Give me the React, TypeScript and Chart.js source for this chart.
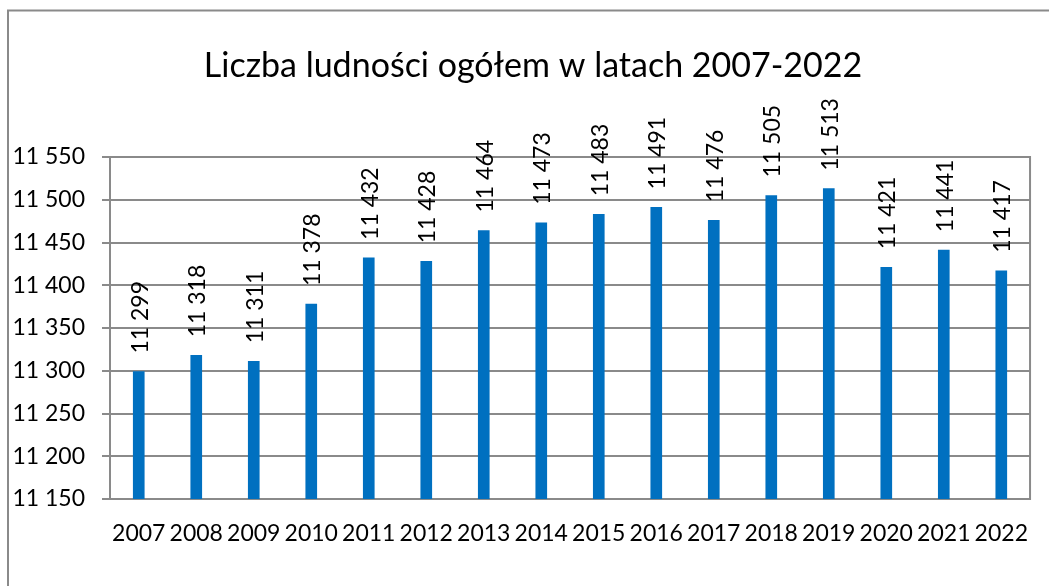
import React, { useEffect, useRef } from "react";
import { Chart, registerables } from "chart.js";

Chart.register(...registerables);

const years = ["2007", "2008", "2009", "2010", "2011", "2012", "2013", "2014", "2015", "2016", "2017", "2018", "2019", "2020", "2021", "2022"];
const population = [11299, 11318, 11311, 11378, 11432, 11428, 11464, 11473, 11483, 11491, 11476, 11505, 11513, 11421, 11441, 11417];
const yMin = 11150;
const yMax = 11550;
const yStep = 50;
const titleText = "Liczba ludności ogółem w latach 2007-2022";

const FONT = "Lato";
const GRID = "#8a8a8a";
const BAR = "#0070C0";

const fmt = (n: number) => String(n).replace(/\B(?=(\d{3})+(?!\d))/g, " ");

const decorPlugin = {
  id: "decor",
  afterDraw(chart: any) {
    const { ctx, chartArea } = chart;
    ctx.save();
    // outer frame
    ctx.strokeStyle = GRID;
    ctx.lineWidth = 2;
    ctx.beginPath();
    ctx.moveTo(1049, 10.5);
    ctx.lineTo(8, 10.5);
    ctx.lineTo(8, 586);
    ctx.stroke();
    // right plot border
    ctx.beginPath();
    ctx.moveTo(chartArea.right, chartArea.top - 1);
    ctx.lineTo(chartArea.right, chartArea.bottom + 1);
    ctx.stroke();
    // title
    ctx.fillStyle = "#000";
    ctx.font = `34px ${FONT}`;
    ctx.textAlign = "center";
    ctx.textBaseline = "alphabetic";
    ctx.fillText(titleText, 533, 77);
    // data labels
    const meta = chart.getDatasetMeta(0);
    ctx.font = `23px ${FONT}`;
    ctx.textAlign = "left";
    meta.data.forEach((bar: any, i: number) => {
      ctx.save();
      ctx.translate(bar.x + 9, bar.y - 18);
      ctx.rotate(-Math.PI / 2);
      ctx.fillText(fmt(population[i]), 0, 0);
      ctx.restore();
    });
    ctx.restore();
  },
};

export default function App() {
  const ref = useRef<HTMLCanvasElement>(null);
  useEffect(() => {
    if (!ref.current) return;
    const chart = new Chart(ref.current, {
      type: "bar",
      data: {
        labels: years,
        datasets: [
          {
            data: population,
            backgroundColor: BAR,
            barThickness: 11,
          },
        ],
      },
      options: {
        responsive: false,
        animation: false,
        layout: { padding: { top: 157, right: 1, left: 0, bottom: 0 } },
        plugins: {
          legend: { display: false },
          title: { display: false },
          tooltip: { enabled: false },
        },
        scales: {
          x: {
            grid: { display: true, drawOnChartArea: false, drawTicks: false },
            border: { display: true, color: GRID, width: 2 },
            ticks: {
              color: "#000",
              font: { family: FONT, size: 23 },
              padding: 21,
              autoSkip: false,
              maxRotation: 0,
            },
            afterFit(scale: any) {
              scale.height = 87;
            },
          },
          y: {
            min: yMin,
            max: yMax,
            grid: { color: GRID, lineWidth: 2, tickLength: 8 },
            border: { display: true, color: GRID, width: 2 },
            ticks: {
              stepSize: yStep,
              color: "#000",
              font: { family: FONT, size: 23 },
              padding: 17,
              callback: (v: any) => fmt(Number(v)),
            },
            afterFit(scale: any) {
              scale.width = 110;
            },
          },
        },
      },
      plugins: [decorPlugin],
    });
    return () => chart.destroy();
  }, []);
  return (
    <canvas
      ref={ref}
      width={1049}
      height={586}
      style={{ position: "fixed", left: 0, top: 0, width: 1049, height: 586, background: "#fff" }}
    />
  );
}
